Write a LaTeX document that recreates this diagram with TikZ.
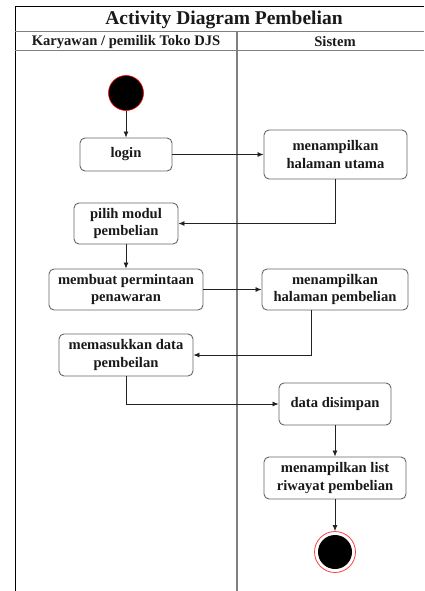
\documentclass[tikz,border=0pt]{standalone}
\usepackage{fontspec}
\setmainfont{Liberation Serif}
\usetikzlibrary{arrows.meta}
\definecolor{boxline}{HTML}{666666}
\definecolor{laneline}{HTML}{808080}
\definecolor{arrowline}{HTML}{222222}
\begin{document}
\begin{tikzpicture}[x=1pt,y=-1pt,
  act/.style={draw=boxline,line width=0.9pt,rounded corners=5pt,inner sep=0pt,align=center,
    font=\fontsize{14.6}{17.5}\selectfont\bfseries,text=black!90},
  flow/.style={draw=arrowline,line width=0.8pt,-{Latex[length=6pt,width=5pt]}}]
\useasboundingbox (0,0) rectangle (424,591);
% frame
\draw[black,line width=1pt] (15,591) -- (15,7) -- (424,7);
\draw[laneline,line width=1pt] (15,32) -- (424,32);
\draw[laneline,line width=1pt] (15,51) -- (424,51);
\draw[laneline,line width=1.2pt] (237,32) -- (237,591);
\node[text=black!90] (title) at (224,20) {\fontsize{19.5}{22}\selectfont\bfseries Activity Diagram Pembelian};
\node[text=black!90] (lane1) at (126,42) {\fontsize{14.6}{16}\selectfont\bfseries Karyawan / pemilik Toko DJS};
\node[text=black!90] (lane2) at (335,42) {\fontsize{14.6}{16}\selectfont\bfseries Sistem};
% nodes
\node[circle,fill=black,draw=red,line width=0.6pt,minimum size=35pt,inner sep=0pt] (start) at (126,93) {};
\node[act,minimum width=92pt,minimum height=33pt] (login) at (126,154.5) {login};
\node[act,minimum width=143pt,minimum height=49pt] (utama) at (335.5,154.5) {menampilkan\\halaman utama};
\node[act,minimum width=104pt,minimum height=41pt] (modul) at (126,223.5) {pilih modul\\pembelian};
\node[act,minimum width=154pt,minimum height=41pt] (minta) at (126,289.5) {membuat permintaan\\penawaran};
\node[act,minimum width=146pt,minimum height=41pt] (hbeli) at (335,289.5) {menampilkan\\halaman pembelian};
\node[act,minimum width=134pt,minimum height=42pt] (masuk) at (126,355) {memasukkan data\\pembeilan};
\node[act,minimum width=112pt,minimum height=42pt] (simpan) at (335,404) {data disimpan};
\node[act,minimum width=142pt,minimum height=42pt] (list) at (335,478) {menampilkan list\\riwayat pembelian};
\node[circle,draw=red!75,line width=0.8pt,minimum size=41pt,inner sep=0pt] (end) at (335,552) {};
\node[circle,fill=black,minimum size=34pt,inner sep=0pt] (endin) at (end) {};
% flows
\draw[flow] (start) -- (login);
\draw[flow] (login) -- (utama);
\draw[flow] (utama.south) |- (modul.east);
\draw[flow] (modul) -- (minta);
\draw[flow] (minta) -- (hbeli);
\draw[flow] (hbeli.south -| 311,0) |- (masuk.east);
\draw[flow] (masuk.south) |- (simpan.west);
\draw[flow] (simpan) -- (list);
\draw[flow] (list) -- (end);
\end{tikzpicture}
\end{document}
